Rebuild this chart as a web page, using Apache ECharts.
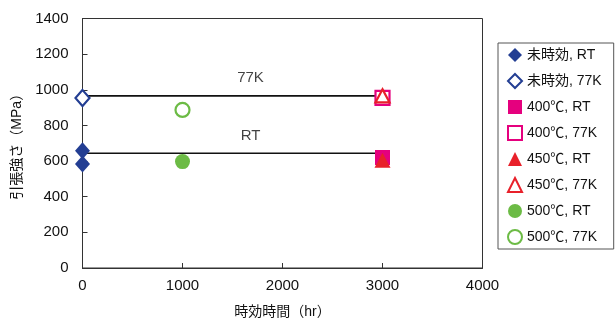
<!DOCTYPE html>
<html>
<head>
<meta charset="utf-8">
<script src="https://cdn.jsdelivr.net/npm/echarts@6/dist/echarts.min.js"></script>
<style>html,body{margin:0;padding:0;background:#fff}#c{width:615px;height:324px}</style>
</head>
<body>
<div id="c"></div>
<script>
// ---- data ----
const seriesNames = ['未時効, RT', '未時効, 77K', '400℃, RT', '400℃, 77K', '450℃, RT', '450℃, 77K', '500℃, RT', '500℃, 77K'];
const unagedRT = [[0, 658], [0, 584]];
const unaged77K = [[0, 954]];
const c400RT = [[3000, 620]];
const c400_77K = [[3000, 955]];
const c450RT = [[3000, 605]];
const c450_77K = [[3000, 966]];
const c500RT = [[1000, 597]];
const c500_77K = [[1000, 887]];
const line77K = [[0, 966], [3000, 966]];
const lineRT = [[0, 644], [3000, 644]];
const annotations = [['77K', 1680, 966], ['RT', 1680, 644]];
const xRange = [0, 4000];
const yRange = [0, 1400];

const BLUE = '#233e93', MAG = '#e5007e', RED = '#e8202a', GRN = '#6cbb45';
const FONT = "'Liberation Sans', 'Noto Sans CJK JP', sans-serif";

function sc(name, data, symbol, size, color, filled) {
  return {
    type: 'scatter', name, data, symbol, symbolSize: size, clip: false, z: 5,
    itemStyle: filled ? { color: color, opacity: 1 } : { color: '#fff', borderColor: color, borderWidth: 2.2, opacity: 1 },
    emphasis: { disabled: true }
  };
}

const chart = echarts.init(document.getElementById('c'), null, { renderer: 'canvas' });
chart.setOption({
  animation: false,
  backgroundColor: '#fff',
  textStyle: { fontFamily: FONT },
  grid: { left: 82.5, top: 18.5, width: 400, height: 256, show: true, borderColor: '#333', borderWidth: 1, backgroundColor: 'transparent' },
  xAxis: {
    type: 'value', min: xRange[0], max: xRange[1], interval: 1000,
    name: '時効時間（hr）', nameLocation: 'middle', nameGap: 37,
    nameTextStyle: { color: '#111', fontSize: 14, fontFamily: FONT },
    axisLine: { show: true, lineStyle: { color: '#333', width: 1 } },
    axisTick: { show: true, inside: true, length: 5, lineStyle: { color: '#333' } },
    axisLabel: { color: '#111', fontSize: 15, margin: 10, fontFamily: FONT, formatter: v => String(v) },
    splitLine: { show: false }
  },
  yAxis: {
    type: 'value', min: yRange[0], max: yRange[1], interval: 200,
    name: '引張強さ（MPa）', nameLocation: 'middle', nameGap: 54, nameRotate: 90,
    nameTextStyle: { color: '#111', fontSize: 14, fontFamily: FONT },
    axisLine: { show: true, lineStyle: { color: '#333', width: 1 } },
    axisTick: { show: true, inside: true, length: 5, lineStyle: { color: '#333' } },
    axisLabel: { color: '#111', fontSize: 15, margin: 14, fontFamily: FONT, formatter: v => String(v) },
    splitLine: { show: false }
  },
  legend: {
    data: seriesNames,
    orient: 'vertical', left: 498, top: 43,
    padding: [5, 12, 4, 9],
    borderColor: '#555', borderWidth: 1,
    itemWidth: 14, itemHeight: 14, itemGap: 11, selectedMode: false,
    textStyle: { color: '#111', fontSize: 14, fontFamily: FONT }
  },
  series: [
    { type: 'line', data: line77K, symbol: 'none', z: 2, lineStyle: { color: '#111', width: 1.6 }, silent: true },
    { type: 'line', data: lineRT, symbol: 'none', z: 2, lineStyle: { color: '#111', width: 1.6 }, silent: true },
    {
      type: 'scatter', data: annotations.map(a => ({ value: [a[1], a[2]], name: a[0] })), symbolSize: 0, silent: true,
      label: { show: true, position: 'top', distance: 10, formatter: p => p.name, color: '#111', fontSize: 15, fontFamily: FONT }
    },
    sc(seriesNames[0], unagedRT, 'diamond', [15, 17], BLUE, true),
    sc(seriesNames[1], unaged77K, 'diamond', [14, 16], BLUE, false),
    sc(seriesNames[2], c400RT, 'rect', 15, MAG, true),
    sc(seriesNames[3], c400_77K, 'rect', 14, MAG, false),
    sc(seriesNames[4], c450RT, 'triangle', [16, 15], RED, true),
    sc(seriesNames[5], c450_77K, 'triangle', [14, 13], RED, false),
    sc(seriesNames[6], c500RT, 'circle', 15, GRN, true),
    sc(seriesNames[7], c500_77K, 'circle', 14, GRN, false)
  ]
});
</script>
</body>
</html>
